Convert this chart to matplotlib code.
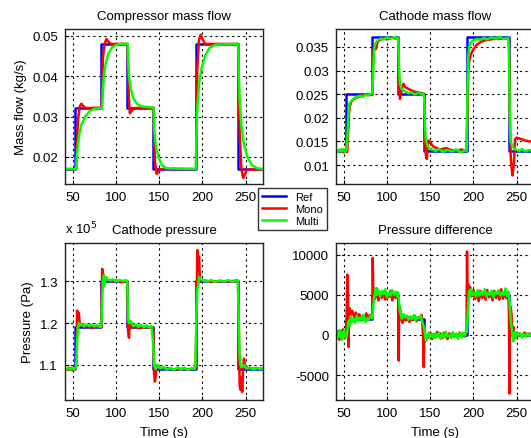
import matplotlib
matplotlib.use("Agg")
import matplotlib.pyplot as plt

plt.rcParams["font.family"] = ["Liberation Sans", "DejaVu Sans"]
plt.rcParams["font.size"] = 9.5

# step times (s) and levels of the reference signals
ref_t = [41, 53, 53, 83, 83, 113, 113, 143, 143, 192, 192, 241, 241, 270]
comp_ref = [0.017, 0.017, 0.0322, 0.0322, 0.048, 0.048, 0.0322, 0.0322,
            0.017, 0.017, 0.048, 0.048, 0.017, 0.017]
cath_ref = [0.013, 0.013, 0.025, 0.025, 0.037, 0.037, 0.025, 0.025,
            0.013, 0.013, 0.037, 0.037, 0.013, 0.013]
pres_ref = [1.09, 1.09, 1.19, 1.19, 1.30, 1.30, 1.19, 1.19,
            1.09, 1.09, 1.30, 1.30, 1.09, 1.09]
dp_ref = [0, 0, 2000, 2000, 5000, 5000, 2000, 2000, 0, 0, 5000, 5000, 0, 0]

# compressor mass flow (kg/s)
comp_mono = [(41, .017), (54, .017), (55, .024), (56, .029), (58, .0325), (60, .0332),
             (62, .0326), (65, .0321), (83.5, .0322), (84, .038), (85, .045), (87, .0482),
             (89, .0492), (91, .0486), (94, .048), (113.5, .048), (114, .040), (115, .034),
             (116, .0308), (118, .0314), (121, .0321), (143.5, .0322), (144, .025), (145, .019),
             (147, .0158), (149, .0164), (152, .017), (192.5, .017), (193, .030), (194, .042),
             (196, .049), (198, .0503), (200, .0492), (203, .048), (241.5, .048), (242, .038),
             (243, .026), (245, .017), (247, .0148), (249, .0156), (251, .0168), (270, .017)]
comp_multi = [(41, .017), (54, .017), (55, .021), (57, .025), (60, .028), (65, .0302),
              (70, .0314), (75, .0319), (83.5, .0321), (84, .0325), (85, .037), (86, .040),
              (88, .043), (91, .0455), (95, .047), (100, .0477), (105, .048), (113.5, .048),
              (114, .044), (115, .040), (117, .037), (120, .0345), (125, .033), (130, .0325),
              (143.5, .0322), (144, .027), (146, .023), (149, .020), (153, .018), (158, .0172),
              (192.5, .017), (193, .025), (194, .032), (196, .038), (199, .042), (203, .045),
              (208, .047), (215, .0478), (241.5, .048), (242, .040), (243, .034), (245, .028),
              (248, .023), (252, .020), (257, .018), (263, .0172), (270, .017)]

# cathode mass flow (kg/s)
cath_mono = [(41, .0131), (44, .0128), (47, .0133), (50, .0127), (53, .0130), (54, .0128),
             (55, .0170), (56, .0210), (57, .0225), (59, .0235), (62, .0240), (66, .0244),
             (70, .0246), (75, .0250), (80, .0248), (83, .0252), (84, .0330), (85, .0350),
             (87, .0345), (89, .0360), (92, .0365), (96, .0368), (100, .0366), (105, .0370),
             (110, .0368), (113, .0369), (114, .0260), (115, .0240), (116, .0250), (118, .0268),
             (119, .0272), (121, .0265), (124, .0262), (128, .0258), (132, .0255), (136, .0254),
             (140, .0252), (143, .0251), (144, .0150), (145, .0120), (146, .0113), (147, .0140),
             (148, .0152), (150, .0148), (153, .0140), (157, .0136), (162, .0133), (168, .0136),
             (174, .0132), (180, .0130), (186, .0133), (192, .0130), (193, .0220), (194, .0300),
             (195, .0320), (197, .0335), (200, .0345), (204, .0355), (208, .0360), (213, .0364),
             (220, .0366), (228, .0368), (235, .0367), (241, .0368), (242, .0200), (243, .0120),
             (244, .0095), (245, .0078), (246, .0090), (247, .0110), (248, .0155), (250, .0158),
             (255, .0155), (260, .0152), (265, .0150), (270, .0150)]
cath_multi = [(41, .0130), (43, .0127), (45, .0133), (47, .0129), (49, .0134), (51, .0128),
              (53, .0131), (54, .0150), (55, .0200), (56, .0225), (57, .0232), (59, .0236),
              (61, .0240), (63, .0243), (66, .0245), (69, .0247), (72, .0244), (75, .0249),
              (78, .0247), (81, .0251), (83, .0252), (84, .0300), (85, .0345), (86, .0355),
              (88, .0362), (90, .0364), (93, .0368), (96, .0366), (100, .0370), (104, .0367),
              (108, .0371), (112, .0369), (113, .0368), (114, .0300), (115, .0270), (117, .0262),
              (119, .0258), (122, .0255), (125, .0252), (128, .0254), (132, .0249), (136, .0253),
              (140, .0250), (142, .0251), (143, .0240), (144, .0180), (145, .0150), (147, .0140),
              (149, .0136), (152, .0133), (156, .0130), (160, .0134), (165, .0128), (170, .0132),
              (175, .0129), (180, .0133), (185, .0127), (190, .0131), (192, .0130), (193, .0250),
              (194, .0330), (195, .0350), (197, .0360), (200, .0364), (204, .0367), (208, .0365),
              (212, .0369), (216, .0366), (220, .0370), (225, .0368), (230, .0371), (235, .0367),
              (240, .0369), (241, .0350), (242, .0200), (243, .0150), (245, .0140), (247, .0135),
              (250, .0132), (253, .0130), (256, .0134), (260, .0129), (264, .0132), (268, .0130),
              (270, .0131)]

# cathode pressure (x 1e5 Pa)
pres_mono = [(41, 1.090), (44, 1.088), (47, 1.093), (50, 1.087), (53, 1.091), (54, 1.10),
             (55, 1.23), (56, 1.20), (57, 1.225), (58, 1.20), (60, 1.195), (63, 1.19),
             (67, 1.193), (72, 1.188), (77, 1.192), (83, 1.190), (84, 1.33), (85, 1.32),
             (86, 1.30), (88, 1.31), (91, 1.302), (95, 1.300), (100, 1.302), (106, 1.298),
             (113, 1.300), (114, 1.18), (115, 1.165), (116, 1.20), (118, 1.19), (122, 1.192),
             (127, 1.188), (133, 1.191), (138, 1.189), (143, 1.190), (144, 1.08), (145, 1.06),
             (146, 1.075), (147, 1.10), (149, 1.095), (153, 1.090), (160, 1.092), (168, 1.088),
             (176, 1.091), (184, 1.089), (192, 1.092), (193, 1.20), (194, 1.375), (195, 1.34),
             (196, 1.36), (197, 1.31), (199, 1.30), (203, 1.302), (210, 1.299), (220, 1.301),
             (230, 1.300), (241, 1.302), (242, 1.20), (243, 1.05), (244, 1.04), (245, 1.07),
             (246, 1.035), (247, 1.09), (248, 1.115), (249, 1.10), (251, 1.095), (255, 1.090),
             (262, 1.092), (270, 1.090)]
pres_multi = [(41, 1.092), (43, 1.089), (45, 1.094), (47, 1.088), (49, 1.093), (51, 1.089),
              (53, 1.091), (54, 1.10), (55, 1.15), (56, 1.19), (57, 1.20), (59, 1.195),
              (61, 1.198), (63, 1.192), (66, 1.197), (69, 1.193), (72, 1.197), (75, 1.192),
              (78, 1.196), (81, 1.191), (83, 1.192), (84, 1.26), (85, 1.30), (86, 1.315),
              (87, 1.29), (88, 1.31), (90, 1.305), (93, 1.302), (96, 1.305), (100, 1.300),
              (104, 1.303), (108, 1.301), (112, 1.303), (113, 1.30), (114, 1.21), (115, 1.20),
              (117, 1.205), (120, 1.193), (123, 1.197), (126, 1.191), (129, 1.196), (132, 1.190),
              (135, 1.195), (138, 1.190), (141, 1.193), (143, 1.15), (144, 1.10), (146, 1.09),
              (148, 1.10), (151, 1.092), (155, 1.095), (159, 1.089), (163, 1.093), (167, 1.088),
              (171, 1.094), (175, 1.089), (179, 1.093), (183, 1.088), (187, 1.092), (191, 1.090),
              (192, 1.10), (193, 1.22), (194, 1.28), (195, 1.29), (196, 1.31), (198, 1.305),
              (201, 1.302), (205, 1.300), (210, 1.303), (215, 1.299), (220, 1.302), (225, 1.300),
              (230, 1.303), (235, 1.299), (240, 1.304), (241, 1.30), (242, 1.20), (243, 1.12),
              (244, 1.10), (246, 1.095), (248, 1.10), (251, 1.091), (255, 1.094), (259, 1.089),
              (263, 1.093), (267, 1.090), (270, 1.092)]

# pressure difference (Pa)
dp_mono = [(41, -300), (43, 500), (45, -600), (47, 200), (49, 700), (51, -400), (53, 300),
           (54, 7500), (55, 4000), (55.5, -1500), (56, 3000), (57, 3300), (58, 2500), (60, 3000),
           (62, 2200), (64, 2800), (66, 2000), (68, 2600), (70, 1800), (72, 2400), (74, 2000),
           (76, 2700), (78, 1900), (80, 2500), (82, 2200), (83, 2600), (83.5, 9600), (84, 6000),
           (85, 5500), (86, 4500), (88, 5800), (90, 4300), (92, 5200), (94, 4600), (96, 5400),
           (98, 4400), (100, 5200), (102, 4700), (104, 5500), (106, 4300), (108, 5000),
           (110, 4600), (112, 5300), (113, 4800), (113.5, -3200), (114, 2800), (115, 3500),
           (116, 2200), (118, 1500), (120, 2400), (122, 1800), (124, 2300), (126, 1600),
           (128, 2200), (130, 1900), (132, 2400), (134, 1700), (136, 2200), (138, 2000),
           (140, 2500), (141, 1000), (142, -500), (142.5, -4000), (143, 500), (144, -800),
           (146, -500), (148, -200), (150, 300), (152, -500), (154, 100), (156, -300), (158, 400),
           (160, -200), (162, 200), (164, -400), (166, 300), (168, -100), (170, -500), (172, 200),
           (174, -300), (176, 300), (178, -200), (180, 100), (182, -300), (184, 300), (186, -100),
           (188, 200), (190, -200), (192, 500), (192.5, 10400), (193, 5500), (194, 6300),
           (195, 5500), (196, 6000), (198, 4800), (200, 5600), (202, 4500), (204, 5300),
           (206, 4200), (208, 5500), (210, 4600), (212, 5200), (214, 4400), (216, 5600),
           (218, 4700), (220, 5300), (222, 4300), (224, 5500), (226, 4600), (228, 5200),
           (230, 4400), (232, 5700), (234, 4500), (236, 5300), (238, 4600), (240, 5200),
           (241, 3000), (241.5, -7300), (242, 1500), (243, 3500), (244, 2500), (245, 0),
           (246, 1000), (247, -500), (248, 300), (250, -300), (253, 200), (256, -200),
           (259, 300), (262, -100), (265, 200), (268, -200), (270, 0)]
dp_multi = [(41, 200), (42, -500), (43, 400), (44, -300), (45, 600), (46, -100), (47, 300),
            (48, -600), (49, 200), (50, 500), (51, -200), (52, 300), (53, -300), (54, 400),
            (55, 1500), (56, 1800), (57, 1200), (58, 2300), (59, 1600), (61, 2100), (63, 1500),
            (65, 2400), (67, 1700), (69, 2200), (71, 1800), (73, 2500), (75, 1600), (77, 2100),
            (79, 1900), (81, 2400), (83, 2100), (84, 3500), (85, 4500), (86, 5200), (87, 5800),
            (88, 5000), (90, 5600), (92, 4800), (94, 5500), (96, 5100), (98, 5700), (100, 4700),
            (102, 5300), (104, 4900), (106, 5600), (108, 5000), (110, 5400), (112, 4800),
            (113, 5200), (114, 4000), (115, 3000), (116, 2500), (117, 2000), (119, 2600),
            (121, 2200), (123, 2400), (125, 1900), (127, 2300), (129, 2000), (131, 2500),
            (133, 1800), (135, 2200), (137, 2100), (139, 2400), (141, 1500), (142, 1200),
            (143, 800), (144, 0), (145, -700), (146, -400), (148, 300), (150, -300), (152, 100),
            (154, -400), (156, 200), (158, -200), (160, 300), (162, -500), (164, 100), (166, -300),
            (168, 400), (170, -200), (172, 0), (174, -400), (176, 300), (178, -100), (180, 200),
            (182, -500), (184, 200), (186, -300), (188, 300), (190, -100), (191, 400),
            (192, 300), (193, 2000), (194, 3500), (195, 5500), (196, 4900), (197, 5700),
            (199, 5000), (201, 5300), (203, 4800), (205, 5600), (207, 4900), (209, 5400),
            (211, 5000), (213, 5700), (215, 4800), (217, 5300), (219, 5000), (221, 5500),
            (223, 4700), (225, 5400), (227, 5100), (229, 5600), (231, 4900), (233, 5300),
            (235, 5000), (237, 5800), (239, 4800), (240, 5400), (241, 5000), (242, 3500),
            (243, 2000), (244, 1000), (245, 0), (246, -800), (247, -300), (248, 400),
            (249, -200), (250, 300), (252, -100), (254, 200), (256, -300), (258, 100),
            (260, -200), (262, 200), (264, -100), (266, 100), (268, -200), (270, 0)]

x_ticks = [50, 100, 150, 200, 250]
panels = [
    ("Compressor mass flow", comp_ref, comp_mono, comp_multi, (0.0133, 0.0517),
     [0.02, 0.03, 0.04, 0.05], ["0.02", "0.03", "0.04", "0.05"]),
    ("Cathode mass flow", cath_ref, cath_mono, cath_multi, (0.006, 0.0388),
     [0.01, 0.015, 0.02, 0.025, 0.03, 0.035],
     ["0.01", "0.015", "0.02", "0.025", "0.03", "0.035"]),
    ("Cathode pressure", pres_ref, pres_mono, pres_multi, (1.016, 1.392),
     [1.1, 1.2, 1.3], ["1.1", "1.2", "1.3"]),
    ("Pressure difference", dp_ref, dp_mono, dp_multi, (-8100, 11460),
     [-5000, 0, 5000, 10000], ["-5000", "0", "5000", "10000"]),
]
positions = [
    [0.1224, 0.5786, 0.3729, 0.3531],
    [0.6328, 0.5786, 0.3729, 0.3531],
    [0.1224, 0.0866, 0.3729, 0.3576],
    [0.6328, 0.0866, 0.3729, 0.3576],
]

fig = plt.figure(figsize=(5.31, 4.39), dpi=100)
axes = []
for pos, (title, ref, mono, multi, ylim, yt, ytl) in zip(positions, panels):
    ax = fig.add_axes(pos)
    ax.plot(ref_t, ref, color="#0000ff", lw=1.8, label="Ref")
    ax.plot([p[0] for p in mono], [p[1] for p in mono], color="#ff0000", lw=1.8, label="Mono")
    ax.plot([p[0] for p in multi], [p[1] for p in multi], color="#00ff00", lw=1.8, label="Multi")
    ax.set_xlim(41, 270)
    ax.set_ylim(*ylim)
    ax.set_xticks(x_ticks)
    ax.set_yticks(yt)
    ax.set_yticklabels(ytl)
    ax.grid(True, color="black", linestyle=(0, (2, 3)), linewidth=0.8)
    ax.tick_params(direction="in", length=3, pad=5, labelsize=9.5, colors="black")
    for s in ax.spines.values():
        s.set_color("#222222")
        s.set_linewidth(1.0)
    ax.set_title(title, fontsize=9.5, pad=7)
    axes.append(ax)

axes[0].set_ylabel("Mass flow (kg/s)", fontsize=9.5)
axes[2].set_ylabel("Pressure (Pa)", fontsize=9.5)
axes[2].set_xlabel("Time (s)", fontsize=9.5, labelpad=5)
axes[3].set_xlabel("Time (s)", fontsize=9.5, labelpad=5)
axes[2].text(0.0, 1.04, r"x 10$^5$", transform=axes[2].transAxes,
             fontsize=9.5, ha="left", va="bottom")

handles, labels = axes[0].get_legend_handles_labels()
fig.legend(handles, labels, loc="upper left", bbox_to_anchor=(258 / 531, 1 - 189 / 439),
           fontsize=8, frameon=True, fancybox=False, edgecolor="black",
           handlelength=2.2, borderpad=0.35, labelspacing=0.2, handletextpad=0.8,
           borderaxespad=0)

fig.savefig("out.png", dpi=100)
